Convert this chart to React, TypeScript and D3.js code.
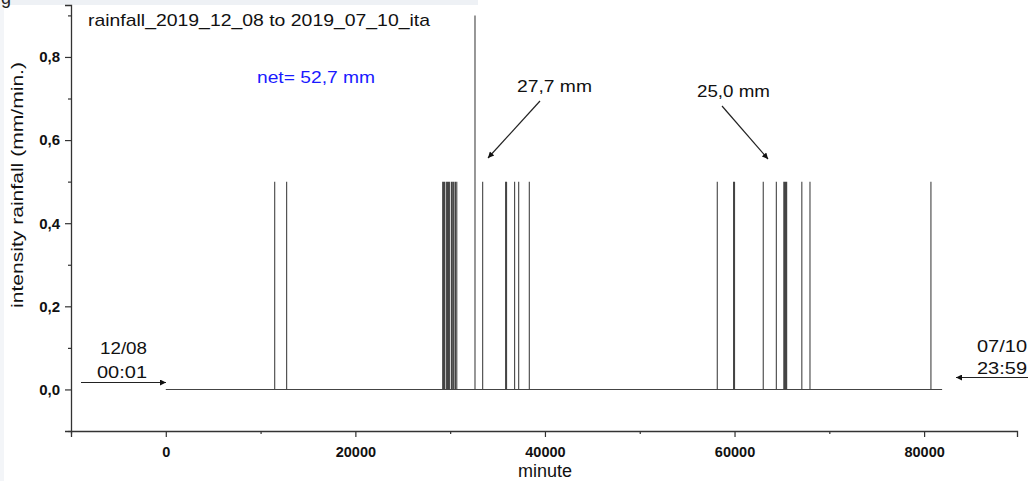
import React, { useEffect, useRef } from 'react';
import * as d3 from 'd3';

// rain spikes (minute since start, intensity mm/min)
const spikeMinutes = [
  11490, 12750,
  29210, 29320, 29420, 29600, 29720, 29830, 29950, 30150, 30280, 30400, 30560, 30700,
  32620, 33430, 35850, 35950, 36800, 37230, 38350,
  58180, 59900, 60000, 63030, 64410, 65200, 65300, 65400, 65500, 67100, 67960,
  80720,
];
const spikeValues = [
  0.5, 0.5,
  0.5, 0.5, 0.5, 0.5, 0.5, 0.5, 0.5, 0.5, 0.5, 0.5, 0.5, 0.5,
  0.9, 0.5, 0.5, 0.5, 0.5, 0.5, 0.5,
  0.5, 0.5, 0.5, 0.5, 0.5, 0.5, 0.5, 0.5, 0.5, 0.5, 0.5,
  0.5,
];
const recordStart = 0;
const recordEnd = 81900;

const xTicks = [0, 20000, 40000, 60000, 80000];
const xMinorTicks = [-10000, 10000, 30000, 50000, 70000];
const yTicks = [0, 0.2, 0.4, 0.6, 0.8];
const yMinorTicks = [-0.1, 0.1, 0.3, 0.5, 0.7, 0.9];

const font = 'Liberation Sans, Arial, sans-serif';

const App = () => {
  const svgRef = useRef<SVGSVGElement>(null);

  useEffect(() => {
    const width = 1028;
    const height = 481;
    const svg = d3.select(svgRef.current);
    svg.selectAll('*').remove();
    svg.attr('width', width).attr('height', height);

    const x = d3.scaleLinear().domain([-10000, 89800]).range([71, 1017]);
    const y = d3.scaleLinear().domain([-0.1, 0.925]).range([431, 5]);

    // page bits around the figure
    svg.append('rect').attr('width', width).attr('height', height).attr('fill', '#fff');
    svg.append('rect').attr('x', 0).attr('y', 0).attr('width', 478).attr('height', 5).attr('fill', '#eef1f5');
    svg.append('rect').attr('x', 0).attr('y', 0).attr('width', 4).attr('height', height).attr('fill', '#f3f5f8');
    svg.append('text').attr('x', 1).attr('y', 4).attr('font-family', font).attr('font-size', 18).attr('fill', '#222').text('g');

    const defs = svg.append('defs');
    defs.append('marker')
      .attr('id', 'arr')
      .attr('viewBox', '0 0 10 10')
      .attr('refX', 10)
      .attr('refY', 5)
      .attr('markerWidth', 9)
      .attr('markerHeight', 6)
      .attr('markerUnits', 'userSpaceOnUse')
      .attr('orient', 'auto')
      .append('path')
      .attr('d', 'M0,0L10,5L0,10Z')
      .attr('fill', '#111');

    // series: zero line with spikes
    const pts: [number, number][] = [[recordStart, 0]];
    spikeMinutes.forEach((m, i) => {
      pts.push([m, 0], [m, spikeValues[i]], [m, 0]);
    });
    pts.push([recordEnd, 0]);
    const line = d3.line<[number, number]>().x((d) => x(d[0])).y((d) => y(d[1]));
    svg.append('path')
      .attr('d', line(pts))
      .attr('fill', 'none')
      .attr('stroke', '#444')
      .attr('stroke-width', 1.1);

    // axes
    const axisColor = '#333';
    const xAxis = svg.append('g').attr('transform', `translate(0,${y(-0.1)})`);
    xAxis.call(d3.axisBottom(x).tickValues(xTicks).tickSize(6).tickFormat((d) => String(d)));
    xAxis.append('g').call(d3.axisBottom(x).tickValues(xMinorTicks).tickSize(3).tickFormat(() => ''))
      .select('.domain').remove();
    xAxis.selectAll('.domain').attr('stroke', axisColor).attr('stroke-width', 1.3);
    xAxis.selectAll('line').attr('stroke', axisColor).attr('stroke-width', 1.2);
    xAxis.selectAll('text')
      .attr('font-family', font)
      .attr('font-size', 14.5)
      .attr('font-weight', 'bold')
      .attr('fill', '#111')
      .attr('dy', '1.15em');

    const yAxis = svg.append('g').attr('transform', `translate(${x(-10000)},0)`);
    yAxis.call(d3.axisLeft(y).tickValues(yTicks).tickSize(6).tickFormat((d) => d3.format('.1f')(+d).replace('.', ',')));
    yAxis.append('g').call(d3.axisLeft(y).tickValues(yMinorTicks).tickSize(3).tickFormat(() => ''))
      .select('.domain').remove();
    yAxis.selectAll('.domain').attr('stroke', axisColor).attr('stroke-width', 1.3);
    yAxis.selectAll('line').attr('stroke', axisColor).attr('stroke-width', 1.2);
    yAxis.selectAll('text')
      .attr('font-family', font)
      .attr('font-size', 15)
      .attr('font-weight', 'bold')
      .attr('fill', '#111')
      .attr('x', -11);

    // axis titles
    svg.append('text')
      .attr('x', 545)
      .attr('y', 477)
      .attr('text-anchor', 'middle')
      .attr('font-family', font)
      .attr('font-size', 18)
      .attr('fill', '#111')
      .text('minute');
    svg.append('text')
      .attr('transform', 'translate(23,185) rotate(-90)')
      .attr('text-anchor', 'middle')
      .attr('font-family', font)
      .attr('font-size', 17)
      .attr('textLength', 246)
      .attr('lengthAdjust', 'spacingAndGlyphs')
      .attr('fill', '#111')
      .text('intensity rainfall (mm/min.)');

    // title and notes
    svg.append('text')
      .attr('x', 88)
      .attr('y', 26)
      .attr('font-family', font)
      .attr('font-size', 17)
      .attr('textLength', 342)
      .attr('lengthAdjust', 'spacingAndGlyphs')
      .attr('fill', '#111')
      .text('rainfall_2019_12_08 to 2019_07_10_ita');
    svg.append('text')
      .attr('x', 257)
      .attr('y', 83)
      .attr('font-family', font)
      .attr('font-size', 17)
      .attr('textLength', 118)
      .attr('lengthAdjust', 'spacingAndGlyphs')
      .attr('fill', '#1a1aff')
      .text('net= 52,7 mm');

    const note = (tx: number, ty: number, s: string, len: number) =>
      svg.append('text')
        .attr('x', tx)
        .attr('y', ty)
        .attr('font-family', font)
        .attr('font-size', 17)
        .attr('textLength', len)
        .attr('lengthAdjust', 'spacingAndGlyphs')
        .attr('fill', '#111')
        .text(s);
    const arrow = (x1: number, y1: number, x2: number, y2: number) =>
      svg.append('line')
        .attr('x1', x1).attr('y1', y1).attr('x2', x2).attr('y2', y2)
        .attr('stroke', '#222')
        .attr('stroke-width', 1.2)
        .attr('marker-end', 'url(#arr)');

    note(517, 92, '27,7 mm', 75);
    arrow(540, 101, 488, 158);
    note(697, 97, '25,0 mm', 73);
    arrow(722, 106, 768, 159);

    note(100, 354, '12/08', 47);
    note(97, 378, '00:01', 50);
    arrow(81, 382.5, 166, 382.5);

    note(977, 352, '07/10', 50);
    note(977, 374, '23:59', 50);
    arrow(1028, 377.5, 956, 377.5);
  }, []);

  return (
    <svg ref={svgRef} style={{ position: 'absolute', left: 0, top: 0, display: 'block' }} />
  );
};

export default App;
